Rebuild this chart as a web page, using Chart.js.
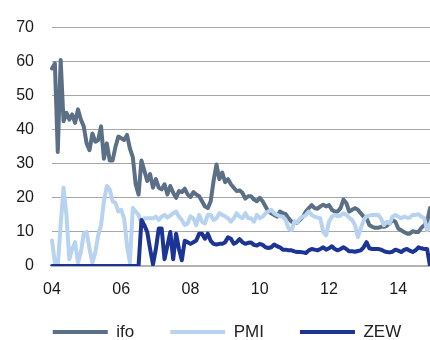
<!DOCTYPE html>
<html>
<head>
<meta charset="utf-8">
<script src="https://cdn.jsdelivr.net/npm/chart.js@4.4.1/dist/chart.umd.min.js"></script>
<style>
  html, body { margin: 0; padding: 0; background: #ffffff; }
  #wrap { width: 430px; height: 340px; }
</style>
</head>
<body>
<div id="wrap"><canvas id="c" width="430" height="340"></canvas></div>
<script>
// Monthly data, Jan 2004 - Dec 2014
const startYear = 2004;
const months = 132;
const categories = [];
for (let i = 0; i < months; i++) {
  const y = startYear + Math.floor(i / 12);
  const m = (i % 12) + 1;
  categories.push(y + '-' + (m < 10 ? '0' + m : m));
}
const yearTicks = ['04', '06', '08', '10', '12', '14'];
const yTicks = [0, 10, 20, 30, 40, 50, 60, 70];

const ifo = [58,59.5,33.5,60.5,42.5,45,43,44.5,42,46,43,41,
  36,34,38.9,36.5,37,41,31.5,36,31,31,35,38,
  37.5,37,38.5,34.5,32,24,21,31,28,25,27,23,
  25.5,23,22.5,24,21,23.5,21.5,20,22,21.7,22.7,21,
  20.3,21.7,21,20.5,19,17.5,17,19,25,29.8,25.5,27.4,
  24.6,25.5,24,23,22,22.2,21.5,19.8,20.5,20.5,19.5,19,
  20,19,17.5,16,15.5,15,14.5,16,15.5,15.2,14,13,
  13,12.7,13.6,14.5,16,17,17.9,17,16.8,17.5,18,17.5,
  17.9,16.5,16,16,17,19.5,18.5,16,16.5,17,16.5,15.5,
  14.5,14,12,11.5,11.2,11.2,11.5,11.5,11.8,12.5,13.5,13,
  11,10.5,10,9.5,9.5,10.2,10,10,11.2,12,13,17];

const pmi = [7.5,1,0,12,23,15,2,5,7,1,4,9.5,
  10,5,1,4,9,12,19,23.5,22.5,19,18.5,16,
  16.5,14,6,1,17,16,15,12.5,14,14,14,14,
  14.5,13.5,14.5,15,14.2,14.8,15.5,16,14.5,13.5,12,12.5,
  14.6,14,12,15,13,12.5,15,15,13.5,14,15.5,15,
  14.6,14,13,14,15.5,14.5,14,15.5,14,14,13,15,
  14,14.5,15.5,16,16.5,15.5,15,14.6,14.5,13.5,11,10.5,
  13,12.8,14,14.5,15,16,15,14.5,14.2,14,10,9,
  13,14.5,15,14.6,14.8,15.5,15,14.2,13.5,12,8.5,11,
  13.5,14.6,14.8,15,15,15,14,12,13,12.5,14.5,15,
  14.5,14,14.5,14.2,14.2,15,15,15.2,14.5,14,10.5,12.5];

const zew = [0,0,0,0,0,0,0,0,0,0,0,0,
  0,0,0,0,0,0,0,0,0,0,0,0,
  0,0,0,0,0,0,0,13.5,12,10,5,0.5,
  5,11,11,2,6,10,2,9.5,5,1.7,7.4,7,
  6.5,7,7.5,9.5,9.5,8,9.5,7.4,6.5,6.3,6.5,6.5,
  7,8.4,8,6.5,7,7.9,7,6.5,6.8,6.9,6.2,6,
  6.5,6.2,5.5,5.3,5.5,6.3,5.8,5.5,4.8,4.8,4.6,4.6,
  4.3,4.1,4.1,4,3.8,4.6,5,4.8,4.6,5,5.5,4.8,
  5.2,5.8,5,4.6,5,5.5,5,4.3,4.3,4.2,4.4,4.6,
  5.5,7,5.2,5,5,5,4.8,4.4,4.1,4,4.2,4.8,
  4.5,4.1,4.7,5,4.5,4.1,4.6,5.5,5.2,5,5,0];

const seriesNames = ['ifo', 'PMI', 'ZEW'];
const seriesColors = ['#5b7087', '#b7d3f0', '#1c3494'];

const FONT = "'Liberation Sans', Arial, sans-serif";

// nudge the legend block to where the reference places it
const legendShift = {
  id: 'legendShift',
  afterLayout(chart) {
    const l = chart.legend;
    if (!l) return;
    l.left += 12; l.right += 12;
    l.top = 287.5; l.bottom = 345;
    l.height = l.bottom - l.top;
  }
};

function mk(i, data, order) {
  return {
    label: seriesNames[i],
    data: data,
    borderColor: seriesColors[i],
    backgroundColor: seriesColors[i],
    borderWidth: 4,
    pointRadius: 0,
    pointHoverRadius: 0,
    tension: 0,
    borderJoinStyle: 'round',
    borderCapStyle: 'round',
    pointStyle: 'line',
    fill: false,
    order: order
  };
}

new Chart(document.getElementById('c'), {
  type: 'line',
  data: {
    labels: categories,
    datasets: [mk(0, ifo, 3), mk(1, pmi, 2), mk(2, zew, 1)]
  },
  options: {
    responsive: false,
    animation: false,
    layout: { padding: { top: 21, left: 0, right: 0, bottom: 0 } },
    plugins: {
      tooltip: { enabled: false },
      legend: {
        position: 'bottom',
        align: 'center',
        maxHeight: 40,
        labels: {
          usePointStyle: true,
          pointStyle: 'line',
          pointStyleWidth: 55,
          padding: 36,
          color: '#222222',
          font: { family: FONT, size: 17 },
          sort: (a, b) => a.datasetIndex - b.datasetIndex
        }
      }
    },
    scales: {
      x: {
        type: 'category',
        grid: { display: false, drawTicks: false },
        border: { display: true, color: '#b4b4b4', width: 2 },
        ticks: {
          autoSkip: false,
          maxRotation: 0,
          minRotation: 0,
          padding: 14,
          color: '#1a1a1a',
          font: { family: FONT, size: 16 },
          callback: function (v, idx) {
            return idx % 24 === 0 ? yearTicks[idx / 24] : '';
          }
        },
        afterFit: function (s) {
          s.height = 34;
          s.paddingLeft = 0;
          s.paddingRight = 0;
        }
      },
      y: {
        min: 0,
        max: 70,
        afterBuildTicks: function (s) { s.ticks = yTicks.map(v => ({ value: v })); },
        grid: { color: '#a6a6a6', lineWidth: 1, drawTicks: false },
        border: { display: false },
        ticks: {
          padding: 18,
          color: '#1a1a1a',
          font: { family: FONT, size: 16 }
        },
        afterFit: function (s) { s.width = 52; }
      }
    }
  },
  plugins: [legendShift]
});
</script>
</body>
</html>
